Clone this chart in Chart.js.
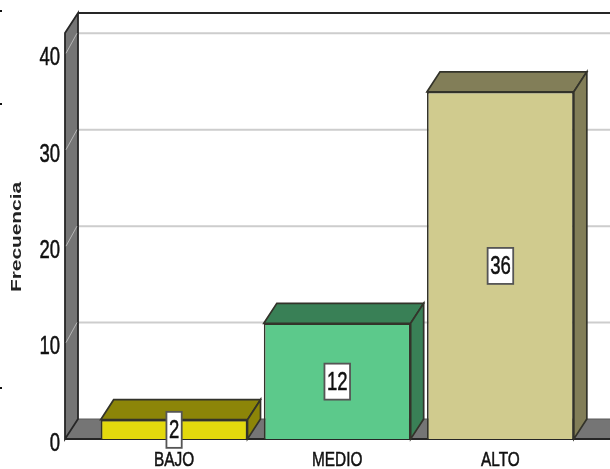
<!DOCTYPE html>
<html>
<head>
<meta charset="utf-8">
<style>
  html, body { margin: 0; padding: 0; background: #fff; overflow: hidden; }
  #wrap { position: relative; width: 610px; height: 469px; }
</style>
<script src="https://cdn.jsdelivr.net/npm/chart.js@4"></script>
</head>
<body>
<div id="wrap"><canvas id="frecuenciaChart"></canvas></div>
<script>
var categories = ['BAJO', 'MEDIO', 'ALTO'];
var frecuencias = [2, 12, 36];
var yTicks = [0, 10, 20, 30, 40];
var yMax = 42.1;

var frontColors = ['#e3d90d', '#5cc98b', '#d0cb8e'];
var sideColors = ['#8c8508', '#398056', '#827e58'];

// how far the back of the box sits from the front
var depthX = 13;
var depthY = -20;
var edgeColor = '#33332a';
var wallColor = '#757575';
var fontFamily = '"Liberation Sans", sans-serif';

// little crop marks along the left edge of the page
var edgeMarks = [10, 103, 387];

function poly(ctx, pts, fill, stroke, lw) {
    ctx.beginPath();
    ctx.moveTo(pts[0][0], pts[0][1]);
    for (var i = 1; i < pts.length; i++) {
        ctx.lineTo(pts[i][0], pts[i][1]);
    }
    ctx.closePath();
    if (fill) {
        ctx.fillStyle = fill;
        ctx.fill();
    }
    if (stroke) {
        ctx.strokeStyle = stroke;
        ctx.lineWidth = lw || 1.7;
        ctx.stroke();
    }
}

// text squeezed or stretched sideways, the axis labels are all drawn this way
function squeezedText(ctx, text, x, y, sx, align, rotate) {
    ctx.save();
    ctx.translate(x, y);
    if (rotate) {
        ctx.rotate(-Math.PI / 2);
    }
    ctx.scale(sx, 1);
    ctx.textAlign = align;
    ctx.textBaseline = 'middle';
    ctx.fillText(text, 0, 0);
    if (!rotate) {
        ctx.strokeStyle = ctx.fillStyle;
        ctx.lineWidth = 0.5;
        ctx.strokeText(text, 0, 0);
    }
    ctx.restore();
}

var boxPlugin = {
    id: 'box',
    // back wall, left wall, floor and the grid lines
    beforeDatasetsDraw: function(chart) {
        var ctx = chart.ctx;
        var y = chart.scales.y;
        var wallLeft = 65;
        var right = chart.width + 5;
        var base = y.getPixelForValue(0);
        var top = y.getPixelForValue(yMax);

        ctx.save();
        poly(ctx, [[wallLeft, base], [wallLeft + depthX, base + depthY], [right, base + depthY], [right, base]], wallColor, '#5a5a5a', 1);

        yTicks.forEach(function(v) {
            if (v === 0) {
                return;
            }
            var py = y.getPixelForValue(v);
            ctx.strokeStyle = '#cdcdcd';
            ctx.lineWidth = 2;
            ctx.beginPath();
            ctx.moveTo(wallLeft + depthX, py + depthY);
            ctx.lineTo(right, py + depthY);
            ctx.stroke();
        });

        poly(ctx, [[wallLeft, base], [wallLeft, top], [wallLeft + depthX, top + depthY], [wallLeft + depthX, base + depthY]], wallColor, '#262626', 1.8);

        yTicks.forEach(function(v) {
            if (v === 0) {
                return;
            }
            var py = y.getPixelForValue(v);
            ctx.strokeStyle = '#b5b5b5';
            ctx.lineWidth = 1;
            ctx.beginPath();
            ctx.moveTo(wallLeft + 1, py);
            ctx.lineTo(wallLeft + depthX - 1, py + depthY);
            ctx.stroke();
        });

        ctx.strokeStyle = '#262626';
        ctx.lineWidth = 1.8;
        ctx.beginPath();
        ctx.moveTo(wallLeft + depthX, top + depthY);
        ctx.lineTo(right, top + depthY);
        ctx.moveTo(wallLeft, base);
        ctx.lineTo(right, base);
        ctx.stroke();

        ctx.fillStyle = '#111';
        edgeMarks.forEach(function(m) {
            ctx.fillRect(0, m, 2, 2);
        });
        ctx.restore();
    },
    afterDatasetsDraw: function(chart) {
        var ctx = chart.ctx;
        var bars = chart.getDatasetMeta(0).data;
        var x = chart.scales.x;
        var y = chart.scales.y;

        ctx.save();
        bars.forEach(function(bar, i) {
            var l = bar.x - bar.width / 2;
            var r = bar.x + bar.width / 2;
            // top and right faces of each bar
            poly(ctx, [[l, bar.y], [l + depthX, bar.y + depthY], [r + depthX, bar.y + depthY], [r, bar.y]], sideColors[i], edgeColor, 1.7);
            poly(ctx, [[r, bar.y], [r + depthX, bar.y + depthY], [r + depthX, bar.base + depthY], [r, bar.base]], sideColors[i], edgeColor, 1.7);
        });

        // value labels in white boxes
        ctx.font = '25px ' + fontFamily;
        bars.forEach(function(bar, i) {
            var text = String(frecuencias[i]);
            var w = ctx.measureText(text).width * 0.74 + 5;
            var cy = (bar.y + bar.base) / 2 + 0.5;
            ctx.fillStyle = '#fff';
            ctx.strokeStyle = '#555';
            ctx.lineWidth = 1.8;
            ctx.fillRect(bar.x - w / 2, cy - 18, w, 36);
            ctx.strokeRect(bar.x - w / 2, cy - 18, w, 36);
            ctx.fillStyle = '#111';
            squeezedText(ctx, text, bar.x, cy + 1, 0.74, 'center');
        });

        // axis tick labels and title
        ctx.fillStyle = '#111';
        yTicks.forEach(function(v) {
            squeezedText(ctx, String(v), 60, y.getPixelForValue(v) + 5, 0.74, 'right');
        });

        ctx.font = '20px ' + fontFamily;
        categories.forEach(function(c, i) {
            squeezedText(ctx, c, x.getPixelForValue(i), 460, 0.77, 'center');
        });

        ctx.font = 'bold 14px ' + fontFamily;
        ctx.fillStyle = '#222';
        squeezedText(ctx, 'Frecuencia', 17, 237, 1.49, 'center', true);
        ctx.restore();
    }
};

new Chart(document.getElementById('frecuenciaChart').getContext('2d'), {
    type: 'bar',
    data: {
        labels: categories,
        datasets: [{
            label: 'Frecuencia',
            data: frecuencias,
            backgroundColor: frontColors,
            borderColor: edgeColor,
            borderWidth: 1.7,
            barPercentage: 0.9,
            categoryPercentage: 1
        }]
    },
    options: {
        responsive: true,
        maintainAspectRatio: false,
        animation: false,
        layout: {
            padding: { top: 33, right: 28, left: 0, bottom: 0 }
        },
        plugins: {
            legend: { display: false },
            tooltip: { enabled: false }
        },
        scales: {
            x: {
                grid: { display: false },
                border: { display: false },
                ticks: { display: false },
                afterFit: function(axis) {
                    axis.height = 30;
                }
            },
            y: {
                min: 0,
                max: yMax,
                grid: { display: false, drawTicks: false },
                border: { display: false },
                ticks: { display: false },
                afterBuildTicks: function(axis) {
                    axis.ticks = yTicks.map(function(v) {
                        return { value: v };
                    });
                },
                afterFit: function(axis) {
                    axis.width = 92.5;
                }
            }
        }
    },
    plugins: [boxPlugin]
});
</script>
</body>
</html>
